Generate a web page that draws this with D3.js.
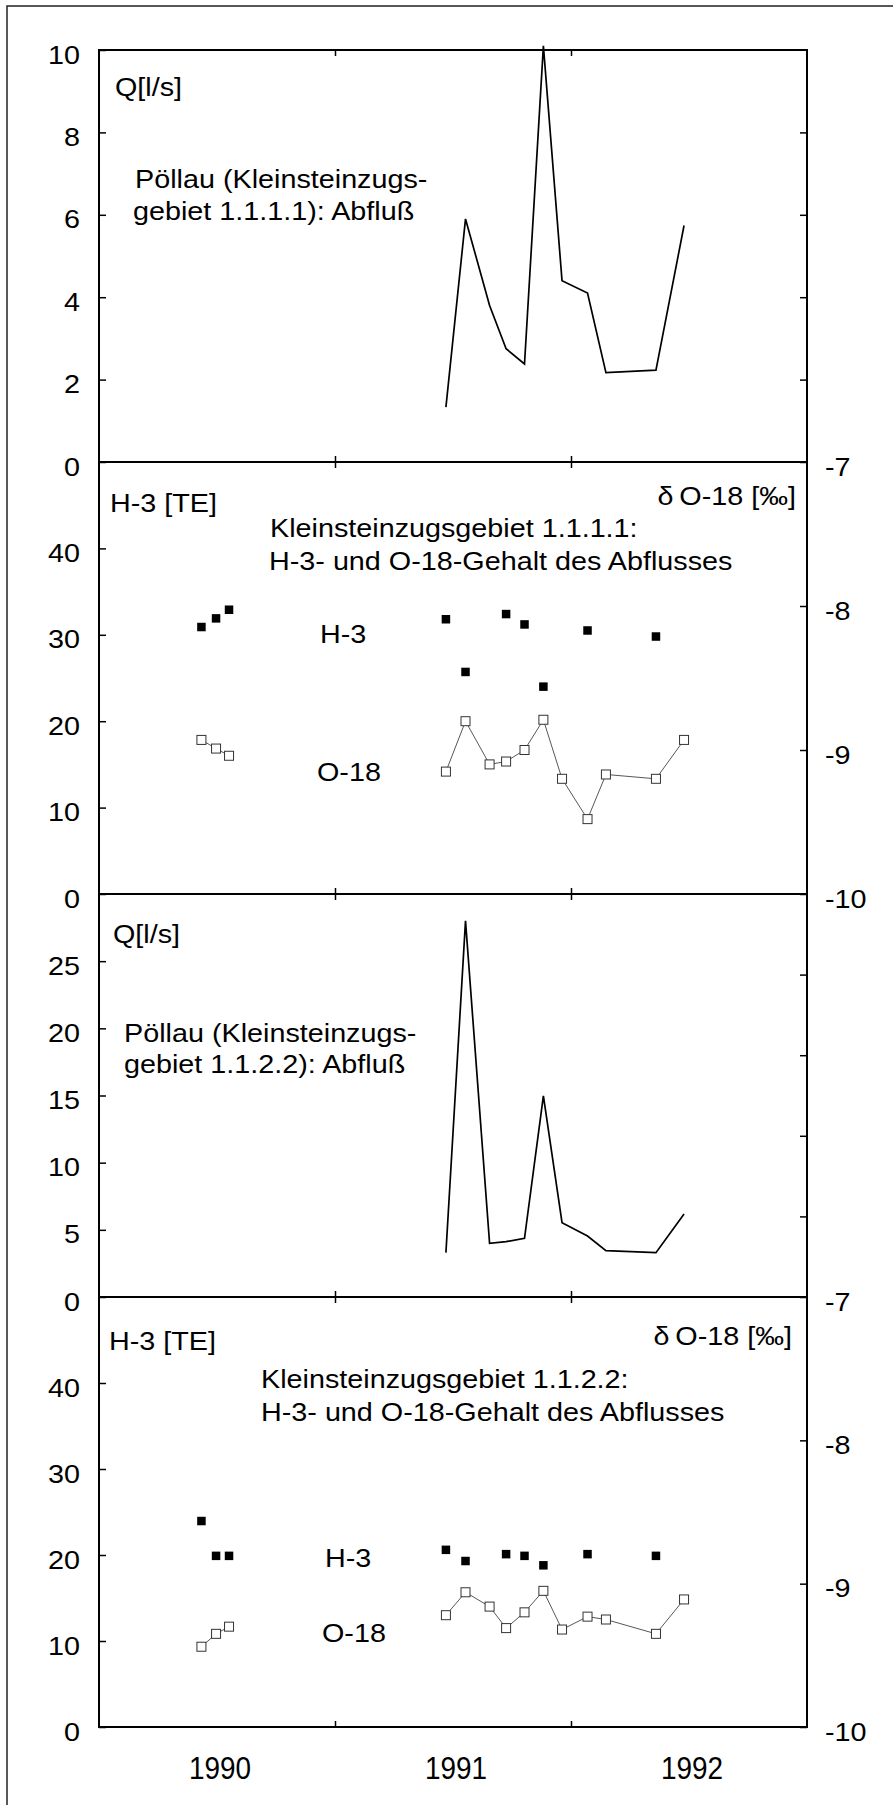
<!DOCTYPE html>
<html>
<head>
<meta charset="utf-8">
<script src="https://cdn.jsdelivr.net/npm/d3@7"></script>
<style>
  body { margin: 0; background: #fff; }
  svg  { display: block; font-family: "Liberation Sans", Arial, Helvetica, sans-serif; }
</style>
</head>
<body>
<svg id="chart" width="893" height="1805"></svg>
<script>
//------------------------------------------------------------------------
// Data (decimal years)
const earlyDates  = [1989.934, 1989.996, 1990.051];
const sampleDates = [1990.970, 1991.053, 1991.155, 1991.225, 1991.303, 1991.383,
                     1991.462, 1991.570, 1991.648, 1991.860, 1991.979];

// Kleinsteinzugsgebiet 1.1.1.1
const q1111        = [1.33, 5.9, 3.8, 2.75, 2.38, 10.1, 4.4, 4.1, 2.17, 2.23, 5.74];
const h3Early1111  = [30.9, 31.9, 32.9];
const h3_1111      = [31.8, 25.7, null, 32.4, 31.2, 24.0, null, 30.5, null, 29.8, null];
const o18Early1111 = [-8.93, -8.99, -9.04];
const o18_1111     = [-9.15, -8.80, -9.10, -9.08, -9.00, -8.79, -9.20, -9.48, -9.17, -9.20, -8.93];

// Kleinsteinzugsgebiet 1.1.2.2
const q1122        = [3.3, 28.0, 4.0, 4.12, 4.37, 14.97, 5.53, 4.54, 3.45, 3.3, 6.18];
const h3Early1122  = [23.95, 19.9, 19.9];
const h3_1122      = [20.6, 19.3, null, 20.1, 19.9, 18.8, null, 20.1, null, 19.9, null];
const o18Early1122 = [-9.44, -9.35, -9.30];
const o18_1122     = [-9.22, -9.06, -9.16, -9.31, -9.20, -9.05, -9.32, -9.23, -9.25, -9.35, -9.11];

// Axis ticks
const yearLabels = [1990, 1991, 1992];
const yearTicks  = [1990.5, 1991.5];
const qTicks1    = [0, 2, 4, 6, 8, 10];
const qTicks2    = [0, 5, 10, 15, 20, 25];
const h3Ticks    = [0, 10, 20, 30, 40];
const o18Ticks   = [-10, -9, -8, -7];

//------------------------------------------------------------------------
// Layout
const plotLeft  = 99;
const plotRight = 807;
const textStretch = 1.15;   // the scanned lettering is a bit wider than Arial
const panels = [
  {top: 50,   bottom: 462},
  {top: 462,  bottom: 894},
  {top: 894,  bottom: 1297},
  {top: 1297, bottom: 1727}
];

const svg = d3.select('#chart');

const x = d3.scaleLinear().domain([1989.5, 1992.5]).range([plotLeft, plotRight]);

const yQ1  = d3.scaleLinear().domain([0, 10]).range([panels[0].bottom, panels[0].top]);
const yH1  = d3.scaleLinear().domain([0, 50]).range([panels[1].bottom, panels[1].top]);
const yO1  = d3.scaleLinear().domain([-10, -7]).range([panels[1].bottom, panels[1].top]);
const yQ2  = d3.scaleLinear().domain([0, 30]).range([panels[2].bottom, panels[2].top]);
const yR3  = d3.scaleLinear().domain([0, 5]).range([panels[2].bottom, panels[2].top]);
const yH2  = d3.scaleLinear().domain([0, 50]).range([panels[3].bottom, panels[3].top]);
const yO2  = d3.scaleLinear().domain([-10, -7]).range([panels[3].bottom, panels[3].top]);

// outer frame (right and bottom edges fall outside the picture)
svg.append('rect')
   .attr('x', 7).attr('y', 6).attr('width', 1000).attr('height', 2000)
   .attr('fill', 'none').attr('stroke', '#222').attr('stroke-width', 1.5);

//------------------------------------------------------------------------
// Axes helpers
function styleAxis(g) {
  g.select('.domain').remove();
  g.selectAll('line').attr('stroke', '#000').attr('stroke-width', 1.5);
  g.selectAll('text')
   .attr('fill', '#000').attr('dy', '13px')
   .style('font-size', '25px')
   .each(function() {
     const t = d3.select(this);
     const tx = +t.attr('x') || 0;
     t.attr('x', 0).attr('transform', `translate(${tx},0) scale(${textStretch},1)`);
   });
}

// plain hyphen-minus, no decimals
const plainFormat = d => String(d);

function leftAxis(scale, ticks, labels = true) {
  const ax = d3.axisLeft(scale).tickValues(ticks).tickSize(-7).tickPadding(19)
               .tickFormat(labels ? plainFormat : '');
  svg.append('g').attr('transform', `translate(${plotLeft},0)`).call(ax).call(styleAxis);
}

function rightAxis(scale, ticks, labels = true) {
  const ax = d3.axisRight(scale).tickValues(ticks).tickSize(-7).tickPadding(18)
               .tickFormat(labels ? plainFormat : '');
  svg.append('g').attr('transform', `translate(${plotRight},0)`).call(ax).call(styleAxis);
}

function timeTicks(p) {
  svg.append('g').attr('transform', `translate(0,${p.top})`)
     .call(d3.axisTop(x).tickValues(yearTicks).tickSize(-6).tickFormat(''))
     .call(styleAxis);
  svg.append('g').attr('transform', `translate(0,${p.bottom})`)
     .call(d3.axisBottom(x).tickValues(yearTicks).tickSize(-6).tickFormat(''))
     .call(styleAxis);
}

leftAxis(yQ1, qTicks1);
rightAxis(yQ1, qTicks1.slice(1, -1), false);
leftAxis(yH1, h3Ticks);
rightAxis(yO1, o18Ticks);
leftAxis(yQ2, qTicks2);
rightAxis(yR3, [1, 2, 3, 4], false);
leftAxis(yH2, h3Ticks);
rightAxis(yO2, o18Ticks);
panels.forEach(timeTicks);

// panel frames
panels.forEach(p => {
  svg.append('rect')
     .attr('x', plotLeft).attr('y', p.top)
     .attr('width', plotRight - plotLeft).attr('height', p.bottom - p.top)
     .attr('fill', 'none').attr('stroke', '#000').attr('stroke-width', 2);
});

// year labels
svg.append('g').selectAll('text')
   .data(yearLabels).enter()
   .append('text')
   .attr('transform', d => `translate(${x(d) + 3},1779) scale(0.9,1)`)
   .attr('text-anchor', 'middle')
   .style('font-size', '31px')
   .text(d => d);

//------------------------------------------------------------------------
// Marks
function pairs(dates, values) {
  return dates.map((d, i) => [d, values[i]]).filter(d => d[1] != null);
}

function qLine(scale, values) {
  const line = d3.line().x(d => x(d[0])).y(d => scale(d[1]));
  svg.append('path').datum(pairs(sampleDates, values))
     .attr('d', line)
     .attr('fill', 'none').attr('stroke', '#000')
     .attr('stroke-width', 1.7).attr('stroke-linejoin', 'miter');
}

function o18Series(scale, dates, values) {
  const data = pairs(dates, values);
  const line = d3.line().x(d => x(d[0])).y(d => scale(d[1]));
  svg.append('path').datum(data)
     .attr('d', line)
     .attr('fill', 'none').attr('stroke', '#444').attr('stroke-width', 0.9);
  svg.append('g').selectAll('rect')
     .data(data).enter()
     .append('rect')
     .attr('x', d => x(d[0]) - 4.5).attr('y', d => scale(d[1]) - 4.5)
     .attr('width', 9).attr('height', 9)
     .attr('fill', '#fff').attr('stroke', '#333').attr('stroke-width', 1);
}

function h3Series(scale, dates, values) {
  svg.append('g').selectAll('rect')
     .data(pairs(dates, values)).enter()
     .append('rect')
     .attr('x', d => x(d[0]) - 4.25).attr('y', d => scale(d[1]) - 4.25)
     .attr('width', 8.5).attr('height', 8.5)
     .attr('fill', '#000');
}

qLine(yQ1, q1111);
o18Series(yO1, earlyDates, o18Early1111);
o18Series(yO1, sampleDates, o18_1111);
h3Series(yH1, earlyDates, h3Early1111);
h3Series(yH1, sampleDates, h3_1111);

qLine(yQ2, q1122);
o18Series(yO2, earlyDates, o18Early1122);
o18Series(yO2, sampleDates, o18_1122);
h3Series(yH2, earlyDates, h3Early1122);
h3Series(yH2, sampleDates, h3_1122);

//------------------------------------------------------------------------
// Labels inside the panels
function label(txt, px, py, anchor = 'start') {
  svg.append('text')
     .attr('transform', `translate(${px},${py}) scale(${textStretch},1)`)
     .attr('text-anchor', anchor)
     .style('font-size', '25px')
     .text(txt);
}

label('Q[l/s]', 115, 96);
label('Pöllau (Kleinsteinzugs-', 135, 188);
label('gebiet 1.1.1.1): Abfluß', 133, 220);

label('H-3 [TE]', 110, 512);
label('δ\u2009O-18 [‰]', 796, 505, 'end');
label('Kleinsteinzugsgebiet 1.1.1.1:', 270, 537);
label('H-3- und O-18-Gehalt des Abflusses', 269, 570);
label('H-3', 320, 643);
label('O-18', 317, 781);

label('Q[l/s]', 113, 943);
label('Pöllau (Kleinsteinzugs-', 124, 1042);
label('gebiet 1.1.2.2): Abfluß', 124, 1073);

label('H-3 [TE]', 109, 1350);
label('δ\u2009O-18 [‰]', 792, 1345, 'end');
label('Kleinsteinzugsgebiet 1.1.2.2:', 261, 1388);
label('H-3- und O-18-Gehalt des Abflusses', 261, 1421);
label('H-3', 325, 1567);
label('O-18', 322, 1642);
</script>
</body>
</html>
